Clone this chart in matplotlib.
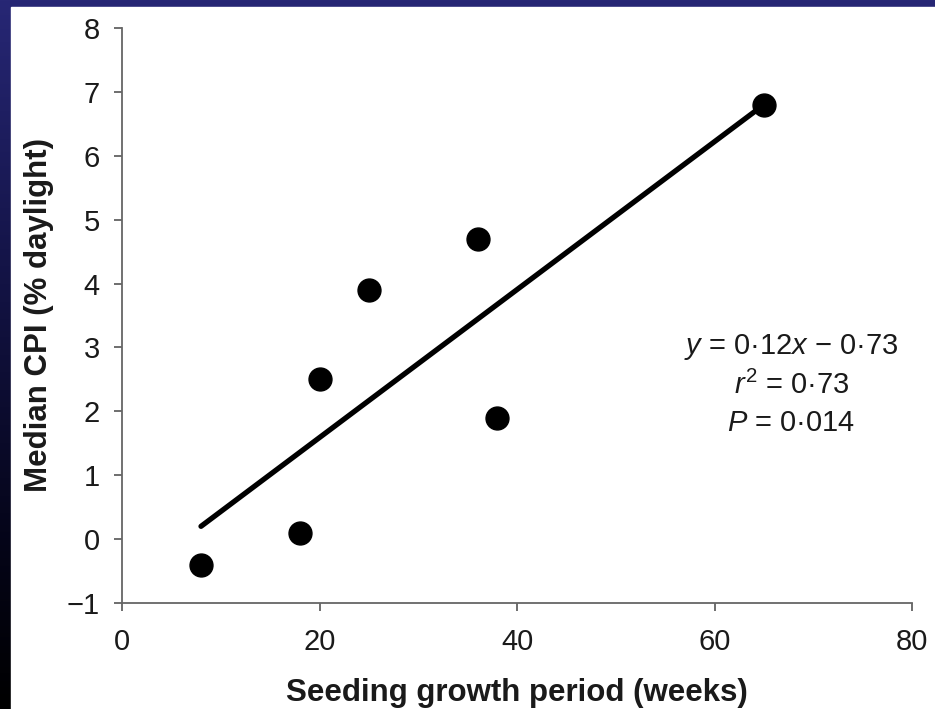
import numpy as np
import matplotlib
matplotlib.use("Agg")
import matplotlib.pyplot as plt
from matplotlib.patches import Rectangle
from matplotlib.colors import LinearSegmentedColormap

# data
weeks = [8, 18, 20, 25, 36, 38, 65]
median_cpi = [-0.4, 0.1, 2.5, 3.9, 4.7, 1.9, 6.8]
fit_x = [8, 65]
fit_y = [0.2, 6.8]
x_ticks = [0, 20, 40, 60, 80]
y_ticks = [-1, 0, 1, 2, 3, 4, 5, 6, 7, 8]
x_tick_labels = ["0", "20", "40", "60", "80"]
y_tick_labels = ["\u22121", "0", "1", "2", "3", "4", "5", "6", "7", "8"]

plt.rcParams["font.family"] = ["Liberation Sans", "DejaVu Sans"]
plt.rcParams["mathtext.fontset"] = "custom"
plt.rcParams["mathtext.rm"] = "Liberation Sans"
plt.rcParams["mathtext.it"] = "Liberation Sans:italic"

W, H = 935, 709
fig = plt.figure(figsize=(W / 100, H / 100), dpi=100)

# slide background: navy fading to black, white panel on top
bg = fig.add_axes([0, 0, 1, 1], zorder=-10)
bg.set_axis_off()
cmap = LinearSegmentedColormap.from_list(
    "slide", [(0.0, "#000000"), (0.25, "#05051a"), (0.65, "#15154a"), (1.0, "#272775")])
grad = np.linspace(0, 1, 256).reshape(-1, 1)
bg.imshow(grad, aspect="auto", cmap=cmap, origin="lower", extent=[0, 1, 0, 1])
bg.set_xlim(0, 1)
bg.set_ylim(0, 1)
bg.add_patch(Rectangle((11 / W, 0), 1, 1 - 7 / H, color="white", zorder=2))

ax = fig.add_axes([122 / W, 1 - 603 / H, (912 - 122) / W, (603 - 28) / H])
ax.patch.set_alpha(0)

ax.plot(fit_x, fit_y, color="black", lw=3.8, solid_capstyle="round", zorder=2)
ax.plot(weeks, median_cpi, "o", color="black", ms=16.5, zorder=3)

ax.set_xlim(0, 80)
ax.set_ylim(-1, 8)
ax.set_xticks(x_ticks)
ax.set_xticklabels(x_tick_labels)
ax.set_yticks(y_ticks)
ax.set_yticklabels(y_tick_labels)

for side in ["top", "right"]:
    ax.spines[side].set_visible(False)
for side in ["left", "bottom"]:
    ax.spines[side].set_color("#666666")
    ax.spines[side].set_linewidth(1.3)
ax.tick_params(axis="both", direction="out", length=6, width=1.2, color="#555555",
               labelsize=21, labelcolor="#1a1a1a")
ax.tick_params(axis="x", pad=12)
ax.tick_params(axis="y", pad=10)

ax.set_xlabel("Seeding growth period (weeks)", fontsize=22.5, fontweight="bold",
              color="#1a1a1a", labelpad=16)
ax.set_ylabel("Median CPI (% daylight)", fontsize=22.5, fontweight="bold",
              color="#1a1a1a", labelpad=9)

ax.text(67.8, 2.42,
        "$y$ = 0\u00b712$x$ \u2212 0\u00b773\n$r^2$ = 0\u00b773\n$P$ = 0\u00b7014",
        ha="center", va="center", multialignment="center", fontsize=21,
        color="#1a1a1a", linespacing=1.4)

fig.savefig("out.png", dpi=100, facecolor="#000000")
